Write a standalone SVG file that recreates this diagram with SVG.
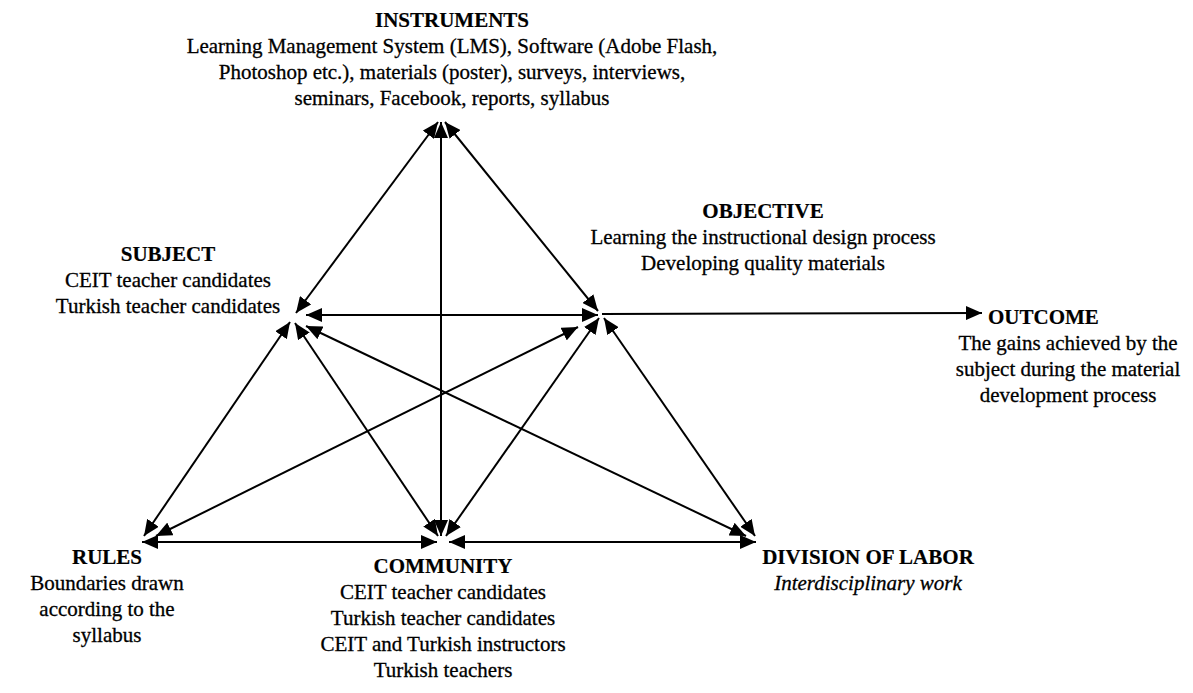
<svg xmlns="http://www.w3.org/2000/svg" width="1193" height="693" viewBox="0 0 1193 693">
<style>
  text { font-family: "Liberation Serif", "Times New Roman", serif; font-size: 21px; fill: #000; stroke: #000; stroke-width: 0.3; }
  .t { font-weight: bold; stroke-width: 0.2; }
  .c { text-anchor: middle; }
  .i { font-style: italic; }
  .ln { stroke: #000; stroke-width: 2; fill: none; }
  .bi { marker-start: url(#ah); marker-end: url(#ah); }
  .uni { marker-end: url(#ah); }
</style>
<defs>
  <marker id="ah" markerUnits="userSpaceOnUse" markerWidth="17" markerHeight="14" refX="16" refY="7" orient="auto-start-reverse">
    <path d="M0,0 L16,7 L0,14 z" fill="#000"/>
  </marker>
</defs>
<rect width="1193" height="693" fill="#fff"/>
<g id="connectors">
  <line class="ln bi" x1="438" y1="122" x2="296" y2="313"/>
  <line class="ln bi" x1="445" y1="122" x2="598" y2="311"/>
  <line class="ln bi" x1="441" y1="122" x2="441" y2="536"/>
  <line class="ln bi" x1="306" y1="315" x2="598" y2="315"/>
  <line class="ln uni" x1="602" y1="314" x2="982" y2="313"/>
  <line class="ln bi" x1="290" y1="322" x2="144" y2="536"/>
  <line class="ln bi" x1="295" y1="323" x2="438" y2="536"/>
  <line class="ln bi" x1="306" y1="326" x2="746" y2="536"/>
  <line class="ln bi" x1="578" y1="327" x2="156" y2="536"/>
  <line class="ln bi" x1="599" y1="318" x2="446" y2="536"/>
  <line class="ln bi" x1="604" y1="318" x2="755" y2="536"/>
  <line class="ln bi" x1="142" y1="542" x2="437" y2="542"/>
  <line class="ln bi" x1="449" y1="542" x2="756" y2="542"/>
</g>
<g id="instruments">
  <text class="t c" x="452" y="27">INSTRUMENTS</text>
  <text class="c" x="452" y="53">Learning Management System (LMS), Software (Adobe Flash,</text>
  <text class="c" x="452" y="79">Photoshop etc.), materials (poster), surveys, interviews,</text>
  <text class="c" x="452" y="105">seminars, Facebook, reports, syllabus</text>
</g>
<g id="subject">
  <text class="t c" x="168" y="261">SUBJECT</text>
  <text class="c" x="168" y="287">CEIT teacher candidates</text>
  <text class="c" x="168" y="313">Turkish teacher candidates</text>
</g>
<g id="objective">
  <text class="t c" x="763" y="218">OBJECTIVE</text>
  <text class="c" x="763" y="244">Learning the instructional design process</text>
  <text class="c" x="763" y="270">Developing quality materials</text>
</g>
<g id="outcome">
  <text class="t" x="988" y="324">OUTCOME</text>
  <text class="c" x="1068" y="350">The gains achieved by the</text>
  <text class="c" x="1068" y="376">subject during the material</text>
  <text class="c" x="1068" y="402">development process</text>
</g>
<g id="rules">
  <text class="t c" x="107" y="564">RULES</text>
  <text class="c" x="107" y="590">Boundaries drawn</text>
  <text class="c" x="107" y="616">according to the</text>
  <text class="c" x="107" y="642">syllabus</text>
</g>
<g id="community">
  <text class="t c" x="443" y="573">COMMUNITY</text>
  <text class="c" x="443" y="599">CEIT teacher candidates</text>
  <text class="c" x="443" y="625">Turkish teacher candidates</text>
  <text class="c" x="443" y="651">CEIT and Turkish instructors</text>
  <text class="c" x="443" y="677">Turkish teachers</text>
</g>
<g id="division">
  <text class="t c" x="868" y="564">DIVISION OF LABOR</text>
  <text class="c i" x="868" y="590">Interdisciplinary work</text>
</g>
</svg>
